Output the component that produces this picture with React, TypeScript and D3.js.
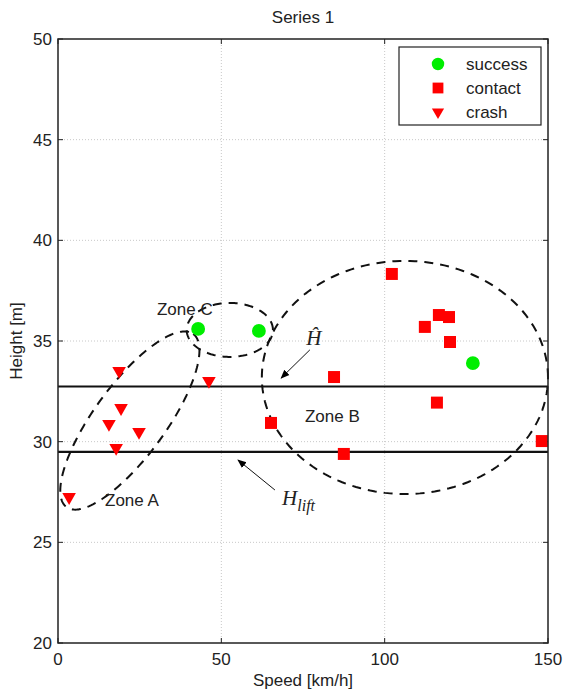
import React from "react";
import * as d3 from "d3";

// speed [km/h] / height [m]
const successSpeed = [42.9, 61.5, 127.0];
const successHeight = [35.6, 35.5, 33.9];

const contactSpeed = [102.2, 116.6, 119.7, 112.3, 120.0, 84.5, 116.0, 65.2, 87.5, 148.1];
const contactHeight = [38.33, 36.29, 36.19, 35.7, 34.95, 33.21, 31.94, 30.93, 29.39, 30.03];

const crashSpeed = [3.4, 18.7, 19.3, 15.6, 24.8, 17.8, 46.2];
const crashHeight = [27.25, 33.51, 31.67, 30.88, 30.48, 29.69, 33.02];

const xTicks = [0, 50, 100, 150];
const yTicks = [20, 25, 30, 35, 40, 45, 50];

const hHat = 32.74;
const hLift = 29.49;

// zones: centre + two half-axis vectors, in data units
const zones = [
  { name: "A", c: [22.0, 31.05], a: [19.4, 4.3], b: [8.8, -1.05] },
  { name: "C", c: [52.6, 35.55], a: [13.2, 0], b: [0, 1.34] },
  { name: "B", c: [106.2, 33.19], a: [43.8, 0], b: [0, 5.79] },
];
const zoneLabels = [
  { text: "Zone A", x: 14.4, y: 26.8 },
  { text: "Zone B", x: 75.6, y: 30.98 },
  { text: "Zone C", x: 30.3, y: 36.29 },
];

const W = 563;
const H = 691;
const margin = { top: 39, right: 15, bottom: 48, left: 58 };
const sans = "'Liberation Sans', Arial, Helvetica, sans-serif";
const serif = "'Liberation Serif', 'Times New Roman', serif";
const fs = 17;

export default function App() {
  const x = d3.scaleLinear().domain([0, 150]).range([margin.left, W - margin.right]);
  const y = d3.scaleLinear().domain([20, 50]).range([H - margin.bottom, margin.top]);
  const [x0, x1] = x.range();
  const [y0, y1] = y.range();

  const ts = d3.range(0, 2 * Math.PI + 0.001, Math.PI / 90);
  const line = d3.line<[number, number]>().x((d) => x(d[0])).y((d) => y(d[1]));

  const circle = d3.symbol(d3.symbolCircle, 150)()!;
  const square = d3.symbol(d3.symbolSquare, 144)()!;
  const tri = d3.symbol(d3.symbolTriangle, 80)()!;

  return (
    <div style={{ position: "absolute", left: 0, top: 0 }}>
      <svg width={W} height={H} style={{ display: "block", background: "#fff" }}>
        <defs>
          <marker id="arr" viewBox="0 0 10 10" refX="9" refY="5" markerWidth="9" markerHeight="9" orient="auto">
            <path d="M0,1 L10,5 L0,9 z" fill="#000" />
          </marker>
        </defs>
        <text x={(x0 + x1) / 2} y={23} textAnchor="middle" fontFamily={sans} fontSize={fs} fill="#222">
          Series 1
        </text>

        {/* grid */}
        {xTicks.slice(1, -1).map((t) => (
          <line key={"gx" + t} x1={x(t)} x2={x(t)} y1={y1} y2={y0} stroke="#c8c8c8" strokeDasharray="1,2" />
        ))}
        {yTicks.slice(1, -1).map((t) => (
          <line key={"gy" + t} x1={x0} x2={x1} y1={y(t)} y2={y(t)} stroke="#c8c8c8" strokeDasharray="1,2" />
        ))}

        {/* ticks inside, all four sides */}
        {xTicks.map((t) => (
          <g key={"tx" + t}>
            <line x1={x(t)} x2={x(t)} y1={y0} y2={y0 - 5} stroke="#222" />
            <line x1={x(t)} x2={x(t)} y1={y1} y2={y1 + 5} stroke="#222" />
            <text x={x(t)} y={y0 + 22} textAnchor="middle" fontFamily={sans} fontSize={fs} fill="#222">
              {t}
            </text>
          </g>
        ))}
        {yTicks.map((t) => (
          <g key={"ty" + t}>
            <line x1={x0} x2={x0 + 5} y1={y(t)} y2={y(t)} stroke="#222" />
            <line x1={x1} x2={x1 - 5} y1={y(t)} y2={y(t)} stroke="#222" />
            <text x={x0 - 6} y={y(t) + 6} textAnchor="end" fontFamily={sans} fontSize={fs} fill="#222">
              {t}
            </text>
          </g>
        ))}

        <text x={(x0 + x1) / 2} y={686} textAnchor="middle" fontFamily={sans} fontSize={fs} fill="#222">
          Speed [km/h]
        </text>
        <text
          transform={`translate(22,${(y0 + y1) / 2}) rotate(-90)`}
          textAnchor="middle"
          fontFamily={sans}
          fontSize={fs}
          fill="#222"
        >
          Height [m]
        </text>

        {/* threshold lines */}
        {[hHat, hLift].map((h) => (
          <line key={"h" + h} x1={x0} x2={x1} y1={y(h)} y2={y(h)} stroke="#111" strokeWidth={2.2} />
        ))}

        {/* zones */}
        {zones.map((z) => (
          <path
            key={z.name}
            d={line(
              ts.map((t) => [
                z.c[0] + z.a[0] * Math.cos(t) + z.b[0] * Math.sin(t),
                z.c[1] + z.a[1] * Math.cos(t) + z.b[1] * Math.sin(t),
              ])
            )!}
            fill="none"
            stroke="#111"
            strokeWidth={2}
            strokeDasharray="9,7"
          />
        ))}
        {zoneLabels.map((l) => (
          <text key={l.text} x={x(l.x)} y={y(l.y)} fontFamily={sans} fontSize={fs} fill="#222">
            {l.text}
          </text>
        ))}

        {/* points */}
        {successSpeed.map((s, i) => (
          <path key={"s" + i} d={circle} transform={`translate(${x(s)},${y(successHeight[i])})`} fill="#00ee00" />
        ))}
        {contactSpeed.map((s, i) => (
          <path key={"c" + i} d={square} transform={`translate(${x(s)},${y(contactHeight[i])})`} fill="#ff0000" />
        ))}
        {crashSpeed.map((s, i) => (
          <path
            key={"r" + i}
            d={tri}
            transform={`translate(${x(s)},${y(crashHeight[i])}) rotate(180)`}
            fill="#ff0000"
          />
        ))}

        {/* annotations */}
        <line x1={x(77.1)} y1={y(34.56)} x2={x(68.3)} y2={y(33.16)} stroke="#111" strokeWidth={1} markerEnd="url(#arr)" />
        <text x={x(76.0)} y={y(34.8)} fontFamily={serif} fontStyle="italic" fontSize={21} fill="#222">
          Ĥ
        </text>
        <line x1={x(66.4)} y1={y(27.6)} x2={x(55.1)} y2={y(29.09)} stroke="#111" strokeWidth={1} markerEnd="url(#arr)" />
        <text x={x(68.6)} y={y(26.86)} fontFamily={serif} fontStyle="italic" fontSize={21} fill="#222">
          H
          <tspan dy={6} fontSize={16}>
            lift
          </tspan>
        </text>

        {/* axes box */}
        <rect x={x0} y={y1} width={x1 - x0} height={y0 - y1} fill="none" stroke="#222" strokeWidth={1.5} />

        {/* legend */}
        <g transform="translate(399,47)">
          <rect width={142} height={78} fill="#fff" stroke="#222" strokeWidth={1.2} />
          {[
            { label: "success", d: circle, fill: "#00ee00", rot: 0 },
            { label: "contact", d: square, fill: "#ff0000", rot: 0 },
            { label: "crash", d: tri, fill: "#ff0000", rot: 180 },
          ].map((e, i) => (
            <g key={e.label} transform={`translate(0,${17 + i * 24})`}>
              <path d={e.d} transform={`translate(39,0) rotate(${e.rot}) scale(0.9)`} fill={e.fill} />
              <text x={67} y={6} fontFamily={sans} fontSize={fs} fill="#222">
                {e.label}
              </text>
            </g>
          ))}
        </g>
      </svg>
    </div>
  );
}
